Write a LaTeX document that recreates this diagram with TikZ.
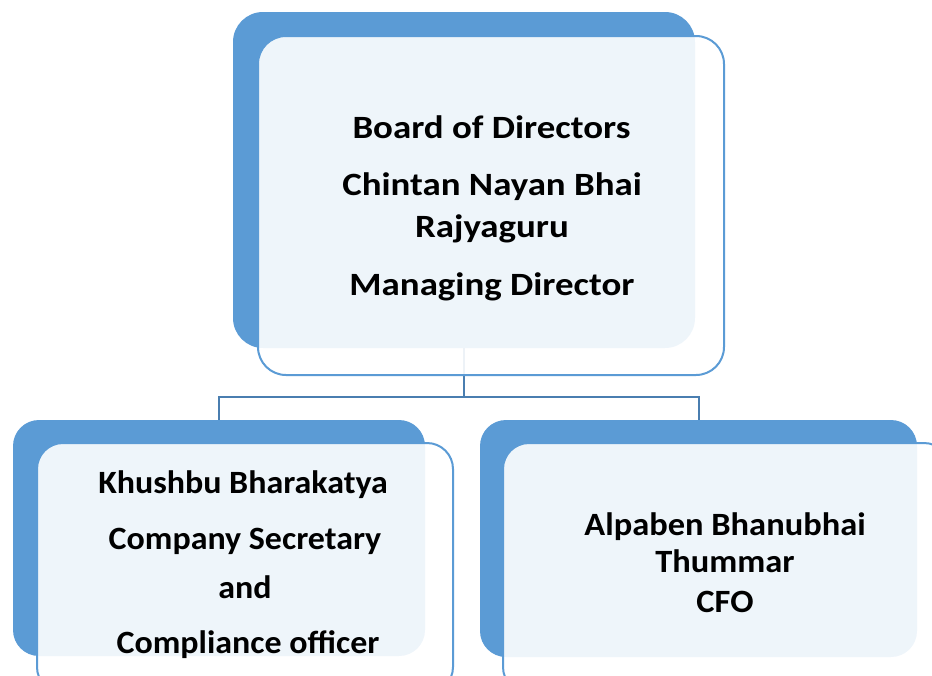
\documentclass[tikz,border=0pt]{standalone}
\usepackage{fontspec}
\setmainfont{Carlito}
\definecolor{cardblue}{HTML}{5B9BD5}
\definecolor{linkblue}{HTML}{4A7EB0}
\tikzset{
  backcard/.style={fill=cardblue, draw=none, rounded corners=30pt, inner sep=0pt},
  frontcard/.style={fill=white, fill opacity=0.9, draw=cardblue, line width=2pt, rounded corners=28pt, inner sep=0pt},
  link/.style={draw=linkblue, line width=2pt},
  label/.style={anchor=base, inner sep=0pt, font=\fontsize{32.5}{38}\selectfont\bfseries, text=black}
}
\newcommand{\topw}[1]{\scalebox{1.135}[1]{#1}}
\newcommand{\leftw}[1]{\scalebox{1.045}[1]{#1}}
\newcommand{\rightw}[1]{\scalebox{1.06}[1]{#1}}
\begin{document}
\begin{tikzpicture}[x=1pt,y=-1pt]
\useasboundingbox (0,0) rectangle (932,675);
\clip (0,0) rectangle (932,675);
% back cards
\node[backcard, minimum width=462pt, minimum height=336pt] (topback) at (464,180) {};
\node[backcard, rounded corners=26pt, minimum width=412pt, minimum height=236pt] (leftback) at (219,538) {};
\node[backcard, rounded corners=26pt, minimum width=437pt, minimum height=237pt] (rightback) at (698.5,538.5) {};
% connectors
\coordinate (junction) at (464,397);
\draw[link] (topback.south) -- (topback.south |- junction) -| (leftback.north);
\draw[link] (topback.south |- junction) -| (rightback.north);
% front cards
\node[frontcard, minimum width=466pt, minimum height=339pt] (topfront) at (491,205.5) {};
\node[frontcard, rounded corners=26pt, minimum width=416pt, minimum height=250pt] (leftfront) at (245,568) {};
\node[frontcard, rounded corners=26pt, minimum width=447pt, minimum height=250pt] (rightfront) at (726.5,568) {};
% texts
\node[label] (t1) at (491.5,138) {\topw{Board of Directors}};
\node[label] (t2) at (492,195) {\topw{Chintan Nayan Bhai}};
\node[label] (t3) at (492,237) {\topw{Rajyaguru}};
\node[label] (t4) at (492,295) {\topw{Managing Director}};
\node[label] (l1) at (243,493) {\leftw{Khushbu Bharakatya}};
\node[label] (l2) at (245,549) {\leftw{Company Secretary}};
\node[label] (l3) at (245,598) {\leftw{and}};
\node[label] (l4) at (248,653) {\leftw{Compliance officer}};
\node[label] (r1) at (725,535) {\rightw{Alpaben Bhanubhai}};
\node[label] (r2) at (725,572) {\rightw{Thummar}};
\node[label] (r3) at (725,612) {\rightw{CFO}};
\end{tikzpicture}
\end{document}
